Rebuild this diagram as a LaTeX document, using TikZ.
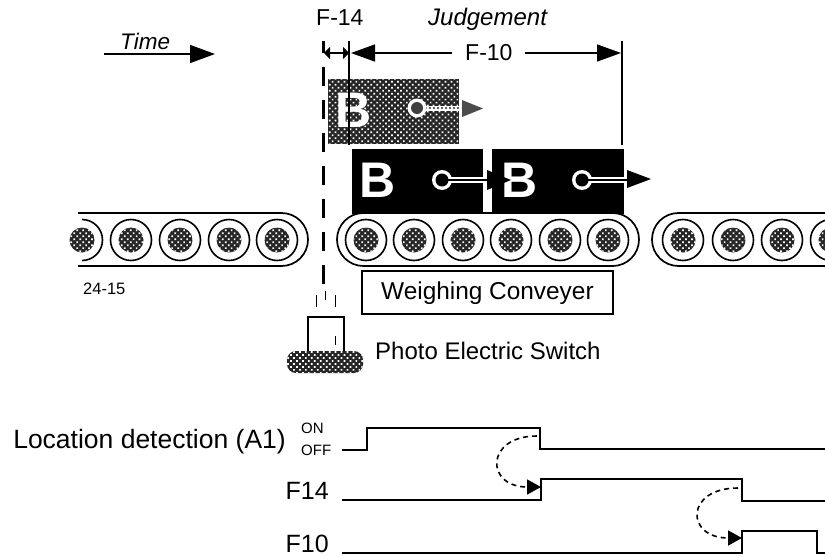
\documentclass[tikz,border=0pt]{standalone}
\usepackage{fontspec}
\setmainfont{Liberation Sans}
\usetikzlibrary{arrows.meta,patterns.meta}
\tikzset{
  x=1pt,y=-1pt,
  halftone/.style={pattern={Dots[radius=1.2pt,distance=4.2pt,angle=45]},pattern color=white},
  belt/.style={line width=1.7pt,black,rounded corners=26.4pt},
  rollerouter/.style={circle,draw=black,line width=1.6pt,fill=white,minimum size=41pt,inner sep=0pt},
  rollerinner/.style={circle,draw=none,fill=black!85,minimum size=25pt,inner sep=0pt},
  rollerdots/.style={circle,halftone,minimum size=25pt,inner sep=0pt},
  signal/.style={line width=2.7pt,black,line join=miter},
  causal/.style={line width=1.6pt,black,dash pattern=on 5pt off 4pt,-{Triangle[length=14pt,width=15pt]}},
  lbl/.style={inner sep=0pt,anchor=base west,font=\fontsize{25}{28}\selectfont},
  bigb/.style={inner sep=0pt,text=white,font=\fontsize{50}{52}\selectfont\bfseries},
  dim/.style={line width=1.4pt,black},
}
\newcommand{\roller}[2]{\node[rollerouter] at (#1,#2) {};\node[rollerinner] at (#1,#2) {};\node[rollerdots] at (#1,#2) {};}
\begin{document}
\begin{tikzpicture}
\useasboundingbox (0,0) rectangle (825,557);
\clip (0,0) rectangle (825,557);
% top labels
\node[lbl,font=\fontsize{22.5}{26}\selectfont\itshape] (time) at (120,49) {Time};
\coordinate (timeA) at (104,54); \coordinate (timeB) at (215,54);
\draw[dim,-{Triangle[length=25pt,width=18pt]}] (timeA) -- (timeB);
\node[lbl,font=\fontsize{23}{26}\selectfont] (f14) at (316,25) {F-14};
\node[lbl,font=\fontsize{24}{26}\selectfont\itshape] (judge) at (428,25) {Judgement};
% gray block
\fill[black!85] (328,79) rectangle (459,144);
\fill[halftone] (328,79) rectangle (459,144);
\node[bigb] (b0) at (354,110) {B};
\draw[white,line width=5pt] (420,108) -- (461,108);
\draw[black!60,line width=1.4pt,dash pattern=on 2pt off 2pt] (425,108) -- (461,108);
\fill[white] (417,108) circle (9.5);
\fill[black!75] (417,108) circle (6);
\fill[black!70] (462,100) -- (483,108.5) -- (462,117) -- cycle;
% vertical markers
\coordinate (dashT) at (323,41); \coordinate (dashB) at (323,284);
\draw[line width=3pt,dash pattern=on 19pt off 14pt,dash phase=7pt] (dashT) -- (dashB);
\coordinate (s1T) at (349,41); \coordinate (s1B) at (349,145);
\coordinate (s2T) at (622,41); \coordinate (s2B) at (622,145);
\draw[line width=2pt] (s1T) -- (s1B);
\draw[line width=2pt] (s2T) -- (s2B);
% dimension
\node[lbl,font=\fontsize{23}{26}\selectfont] (f10) at (465,60) {F-10};
\coordinate (d14a) at (324,53); \coordinate (d14b) at (349,53);
\coordinate (d10a) at (351,53); \coordinate (d10l) at (452,53);
\coordinate (d10r) at (525,53); \coordinate (d10b) at (621,53);
\draw[dim,{Triangle[length=6pt,width=12pt]}-{Triangle[length=6pt,width=12pt]}] (d14a) -- (d14b);
\draw[dim,{Triangle[length=24pt,width=17pt]}-] (d10a) -- (d10l);
\draw[dim,-{Triangle[length=24pt,width=17pt]}] (d10r) -- (d10b);
% black block
\fill[black] (352,149) rectangle (624,214);
\fill[white] (483,149) rectangle (492,214);
\node[bigb] (b1) at (378,180) {B};
\node[bigb] (b2) at (520,180) {B};
\draw[white,line width=6pt] (442,180) -- (490,180);
\fill[white] (442,180) circle (10);
\fill[black] (442,180) circle (6.5);
\draw[black,line width=1.2pt] (448,180) -- (490,180);
\fill[black] (487,170) -- (511,180) -- (487,190) -- cycle;
\draw[white,line width=6pt] (582,180) -- (626,180);
\fill[white] (582,180) circle (10);
\fill[black] (582,180) circle (6.5);
\draw[black,line width=1.2pt] (588,180) -- (628,180);
\fill[black] (627,170) -- (651,179) -- (627,188) -- cycle;
% left conveyor
\draw[belt] (78,213) -- (308,213) -- (308,266) -- (78,266);
\begin{scope}
\clip (82,200) rectangle (120,280);
\draw[line width=1.6pt] (82,240) circle (20.5);
\end{scope}
\node[rollerinner] at (82,240) {};\node[rollerdots] at (82,240) {};
\roller{131}{240}\roller{180}{240}\roller{229}{240}\roller{277}{240}
% weighing conveyor
\draw[belt] (337,213) rectangle (639,266);
\roller{366}{240}\roller{414}{240}\roller{463}{240}\roller{511}{240}\roller{560}{240}\roller{608}{240}
% right conveyor
\draw[belt] (860,213) -- (652,213) -- (652,266) -- (860,266);
\roller{683}{240}\roller{733}{240}\roller{782}{240}\roller{831}{240}
% labels middle
\node[lbl,font=\fontsize{16.5}{18}\selectfont] (fig) at (83,294) {24-15};
\node[draw=black,line width=1.6pt,minimum width=251pt,minimum height=43pt,inner sep=0pt] (wc) at (487.5,292.5) {};
\node[lbl,font=\fontsize{24.4}{28}\selectfont] (wct) at (381,299) {Weighing Conveyer};
% sensor
\draw[line width=1.8pt,fill=white] (308,317) rectangle (344,352);
\draw[line width=.8pt] (335,336) -- (335,345);
\fill[black!85,rounded corners=9pt] (287,351) rectangle (363,373);
\fill[halftone,rounded corners=9pt] (287,351) rectangle (363,373);
\draw[line width=.9pt] (316,295) -- (316,307);
\draw[line width=.9pt] (325,291) -- (325,300);
\draw[line width=.9pt] (335,295) -- (335,307);
\node[lbl,font=\fontsize{24}{28}\selectfont] (pes) at (375,359) {Photo Electric Switch};
% timing
\node[lbl,anchor=base east,font=\fontsize{26.5}{30}\selectfont] (a1) at (286,448) {Location detection (A1)};
\node[lbl,font=\fontsize{15}{17}\selectfont] (on) at (301,433) {ON};
\node[lbl,font=\fontsize{15}{17}\selectfont] (off) at (301,455) {OFF};
\node[lbl,anchor=base east,font=\fontsize{25}{28}\selectfont] (lf14) at (329,499) {F14};
\node[lbl,anchor=base east,font=\fontsize{25}{28}\selectfont] (lf10) at (329,552) {F10};
\draw[signal] (342,450) -- (367,450) -- (367,428) -- (540,428) -- (540,449) -- (825,449);
\draw[signal] (342,500) -- (541,500) -- (541,479) -- (742,479) -- (742,501) -- (825,501);
\draw[signal] (342,553) -- (742,553) -- (742,531) -- (817,531) -- (817,553) -- (825,553);
\coordinate (c1a) at (537,436); \coordinate (c1b) at (541,487);
\coordinate (c2a) at (738,488); \coordinate (c2b) at (742,538);
\draw[causal] (c1a) .. controls (485,436) and (485,487) .. (c1b);
\draw[causal] (c2a) .. controls (685,488) and (685,538) .. (c2b);
\end{tikzpicture}
\end{document}
